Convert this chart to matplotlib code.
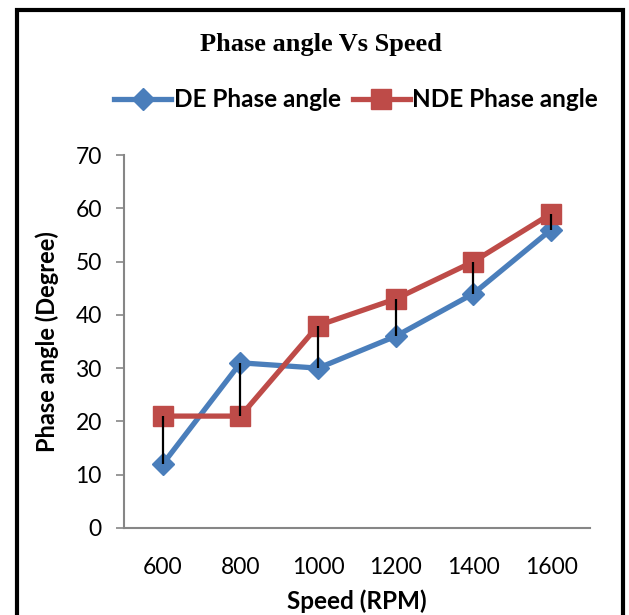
import matplotlib.pyplot as plt
from matplotlib.patches import Rectangle
from matplotlib.lines import Line2D

speed = ['600', '800', '1000', '1200', '1400', '1600']
de_phase = [12, 31, 30, 36, 44, 56]
nde_phase = [21, 21, 38, 43, 50, 59]

blue = '#4A7EBB'
red = '#BE4B48'
axis_grey = '#868686'
font = 'Lato'

fig = plt.figure(figsize=(6.29, 6.15), dpi=100)
ax = fig.add_axes([124 / 629, 1 - 528 / 615, 466 / 629, 373 / 615])

x = list(range(len(speed)))
ax.plot(x, de_phase, color=blue, lw=3.8, marker='D', ms=11, zorder=3,
        label='DE Phase angle')
ax.plot(x, nde_phase, color=red, lw=3.8, marker='s', ms=14, zorder=3,
        label='NDE Phase angle')
# high-low lines between the two series
ax.vlines(x, de_phase, nde_phase, color='black', lw=1.6, zorder=4)

ax.set_xlim(-0.5, len(speed) - 0.5)
ax.set_ylim(0, 70)
ax.set_yticks(range(0, 71, 10))
ax.set_xticks(x)
ax.set_xticklabels(speed)

for s in ['top', 'right']:
    ax.spines[s].set_visible(False)
for s in ['left', 'bottom']:
    ax.spines[s].set_color(axis_grey)
    ax.spines[s].set_linewidth(1.5)
ax.tick_params(axis='y', color=axis_grey, width=1.2, length=6, pad=10)
ax.tick_params(axis='x', length=0, pad=21)
for lbl in ax.get_xticklabels() + ax.get_yticklabels():
    lbl.set_fontfamily(font)
    lbl.set_fontsize(16.5)

ax.set_xlabel('Speed (RPM)', fontfamily=font, fontweight='bold', fontsize=17.5, labelpad=8)
ax.set_ylabel('Phase angle (Degree)', fontfamily=font, fontweight='bold', fontsize=17, labelpad=12)

fig.text(0.51, 1 - 45 / 615, 'Phase angle Vs Speed', ha='center', va='center',
         fontfamily='Liberation Serif', fontweight='bold', fontsize=19)

handles = [Line2D([], [], color=blue, lw=3.8, marker='D', ms=11),
           Line2D([], [], color=red, lw=3.8, marker='s', ms=14)]
fig.legend(handles, ['DE Phase angle', 'NDE Phase angle'], loc='center',
           bbox_to_anchor=(0.566, 1 - 100 / 615), ncol=2, frameon=False,
           handlelength=2.35, handletextpad=0.1, columnspacing=0.5,
           prop={'family': font, 'weight': 'bold', 'size': 17.5})

# outer chart border
fig.patches.append(Rectangle((17 / 629, -0.05), 606 / 629, 1.05 - 10 / 615,
                             transform=fig.transFigure, fill=False,
                             edgecolor='black', lw=3, zorder=10))

fig.savefig('out.png', dpi=100)
